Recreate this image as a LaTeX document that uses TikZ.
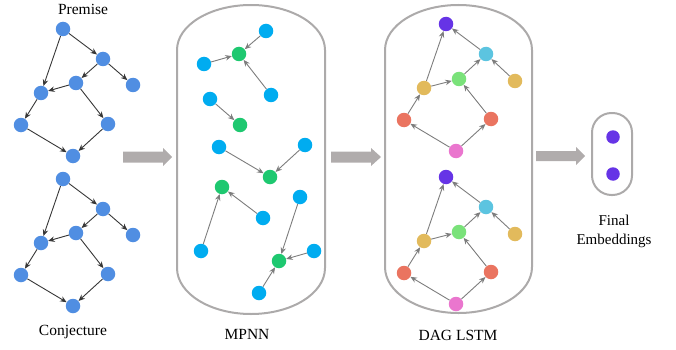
\documentclass[tikz,border=0pt]{standalone}
\usepackage{fontspec}
\setmainfont{Liberation Serif}
\usetikzlibrary{arrows.meta}

\definecolor{pblue}{RGB}{80,142,226}
\definecolor{mblue}{RGB}{0,172,240}
\definecolor{mgreen}{RGB}{30,200,112}
\definecolor{dpurple}{RGB}{102,52,230}
\definecolor{dcyan}{RGB}{92,196,224}
\definecolor{dyellow}{RGB}{226,186,92}
\definecolor{dgreen}{RGB}{122,226,122}
\definecolor{dred}{RGB}{234,116,96}
\definecolor{dpink}{RGB}{234,118,206}
\definecolor{framegray}{RGB}{172,170,170}
\definecolor{bigarrow}{RGB}{176,172,172}

\tikzset{
  dot/.style={circle, inner sep=0pt, minimum size=14.5pt, draw=none},
  gedge/.style={draw={rgb,255:red,55;green,55;blue,55}, line width=0.9pt, -{Stealth[length=6.5pt,width=5.5pt]}},
  medge/.style={draw={rgb,255:red,125;green,125;blue,125}, line width=0.9pt, -{Stealth[length=6.5pt,width=5.5pt]}},
  frame/.style={draw=framegray, line width=2pt},
  caption/.style={font=\fontsize{15.5}{18}\selectfont, inner sep=0pt},
  flowarrow/.style={fill=bigarrow, draw=none}
}

\begin{document}
\begin{tikzpicture}[x=1pt, y=-1pt]
\useasboundingbox (0,0) rectangle (676,350);

% ---- input graphs: premise and conjecture ----
\foreach \g/\dy in {p/0, c/150} {
  \begin{scope}[yshift=-\dy pt]
    \node[dot, fill=pblue] (\g A) at (63,29) {};
    \node[dot, fill=pblue] (\g B) at (103,59) {};
    \node[dot, fill=pblue] (\g C) at (133,85) {};
    \node[dot, fill=pblue] (\g D) at (76,83) {};
    \node[dot, fill=pblue] (\g E) at (41,93) {};
    \node[dot, fill=pblue] (\g F) at (21,125) {};
    \node[dot, fill=pblue] (\g G) at (108,124) {};
    \node[dot, fill=pblue] (\g H) at (73,156) {};
    \draw[gedge] (\g A) -- (\g B);
    \draw[gedge] (\g A) -- (\g E);
    \draw[gedge] (\g B) -- (\g D);
    \draw[gedge] (\g B) -- (\g C);
    \draw[gedge] (\g D) -- (\g E);
    \draw[gedge] (\g D) -- (\g G);
    \draw[gedge] (\g E) -- (\g F);
    \draw[gedge] (\g F) -- (\g H);
    \draw[gedge] (\g G) -- (\g H);
  \end{scope}
}
\node[caption] (premise) at (83,9) {Premise};
\node[caption] (conjecture) at (73,332) {Conjecture};

% ---- thick flow arrows ----
\fill[flowarrow] (123,151.5) -- (163,151.5) -- (163,148) -- (172,157) -- (163,166) -- (163,162.5) -- (123,162.5) -- cycle;
\fill[flowarrow] (331,151.5) -- (371,151.5) -- (371,148) -- (381,157) -- (371,166) -- (371,162.5) -- (331,162.5) -- cycle;
\fill[flowarrow] (536,151) -- (576,151) -- (576,147) -- (585,156) -- (576,165) -- (576,161) -- (536,161) -- cycle;

% ---- MPNN stage: capsule with elliptic caps ----
\draw[frame] (177,268) -- (177,50)
  arc[start angle=180, end angle=0, x radius=74pt, y radius=45pt]
  -- (325,268)
  arc[start angle=0, end angle=-180, x radius=74pt, y radius=46pt] -- cycle;
\node[dot, fill=mblue] (m1) at (266,31) {};
\node[dot, fill=mgreen] (n1) at (239,54) {};
\node[dot, fill=mblue] (m2) at (204,64) {};
\node[dot, fill=mblue] (m3) at (271,95) {};
\node[dot, fill=mblue] (m4) at (210,99) {};
\node[dot, fill=mgreen] (n2) at (240,125) {};
\node[dot, fill=mblue] (m5) at (219,147) {};
\node[dot, fill=mblue] (m6) at (305,145) {};
\node[dot, fill=mgreen] (n3) at (270,177) {};
\node[dot, fill=mgreen] (n4) at (222,187) {};
\node[dot, fill=mblue] (m7) at (263,218) {};
\node[dot, fill=mblue] (m8) at (201,251) {};
\node[dot, fill=mblue] (m9) at (300,197) {};
\node[dot, fill=mgreen] (n5) at (279,261) {};
\node[dot, fill=mblue] (m10) at (314,251) {};
\node[dot, fill=mblue] (m11) at (259,293) {};
\draw[medge] (m1) -- (n1);
\draw[medge] (m2) -- (n1);
\draw[medge] (m3) -- (n1);
\draw[medge] (m4) -- (n2);
\draw[medge] (m5) -- (n3);
\draw[medge] (m6) -- (n3);
\draw[medge] (m8) -- (n4);
\draw[medge] (m7) -- (n4);
\draw[medge] (m9) -- (n5);
\draw[medge] (m10) -- (n5);
\draw[medge] (m11) -- (n5);
\node[caption] (mpnn) at (247,334) {MPNN};

% ---- DAG LSTM stage ----
\draw[frame] (385,267) -- (385,50)
  arc[start angle=180, end angle=0, x radius=73.5pt, y radius=45pt]
  -- (532,267)
  arc[start angle=0, end angle=-180, x radius=73.5pt, y radius=46pt] -- cycle;
\foreach \g/\dy in {t/0, b/153} {
  \begin{scope}[yshift=-\dy pt]
    \node[dot, fill=dpurple] (\g P) at (446,24) {};
    \node[dot, fill=dcyan] (\g C) at (486,54) {};
    \node[dot, fill=dyellow] (\g Y) at (515,81) {};
    \node[dot, fill=dgreen] (\g G) at (459,79) {};
    \node[dot, fill=dyellow] (\g X) at (424,88) {};
    \node[dot, fill=dred] (\g R) at (404,120) {};
    \node[dot, fill=dred] (\g S) at (491,119) {};
    \node[dot, fill=dpink] (\g K) at (456,151) {};
    \draw[medge] (\g X) -- (\g P);
    \draw[medge] (\g C) -- (\g P);
    \draw[medge] (\g G) -- (\g C);
    \draw[medge] (\g Y) -- (\g C);
    \draw[medge] (\g X) -- (\g G);
    \draw[medge] (\g R) -- (\g X);
    \draw[medge] (\g S) -- (\g G);
    \draw[medge] (\g K) -- (\g R);
    \draw[medge] (\g K) -- (\g S);
  \end{scope}
}
\node[caption] (daglstm) at (458,335) {DAG LSTM};

% ---- final embeddings ----
\draw[frame, rounded corners=19.5pt] (592,113) rectangle (632,195);
\node[dot, fill=dpurple, minimum size=13.5pt] (e1) at (613,137) {};
\node[dot, fill=dpurple, minimum size=13.5pt] (e2) at (613,174) {};
\node[caption, align=center, font=\fontsize{15}{19}\selectfont] (final) at (614,231) {Final\\Embeddings};
\end{tikzpicture}
\end{document}
